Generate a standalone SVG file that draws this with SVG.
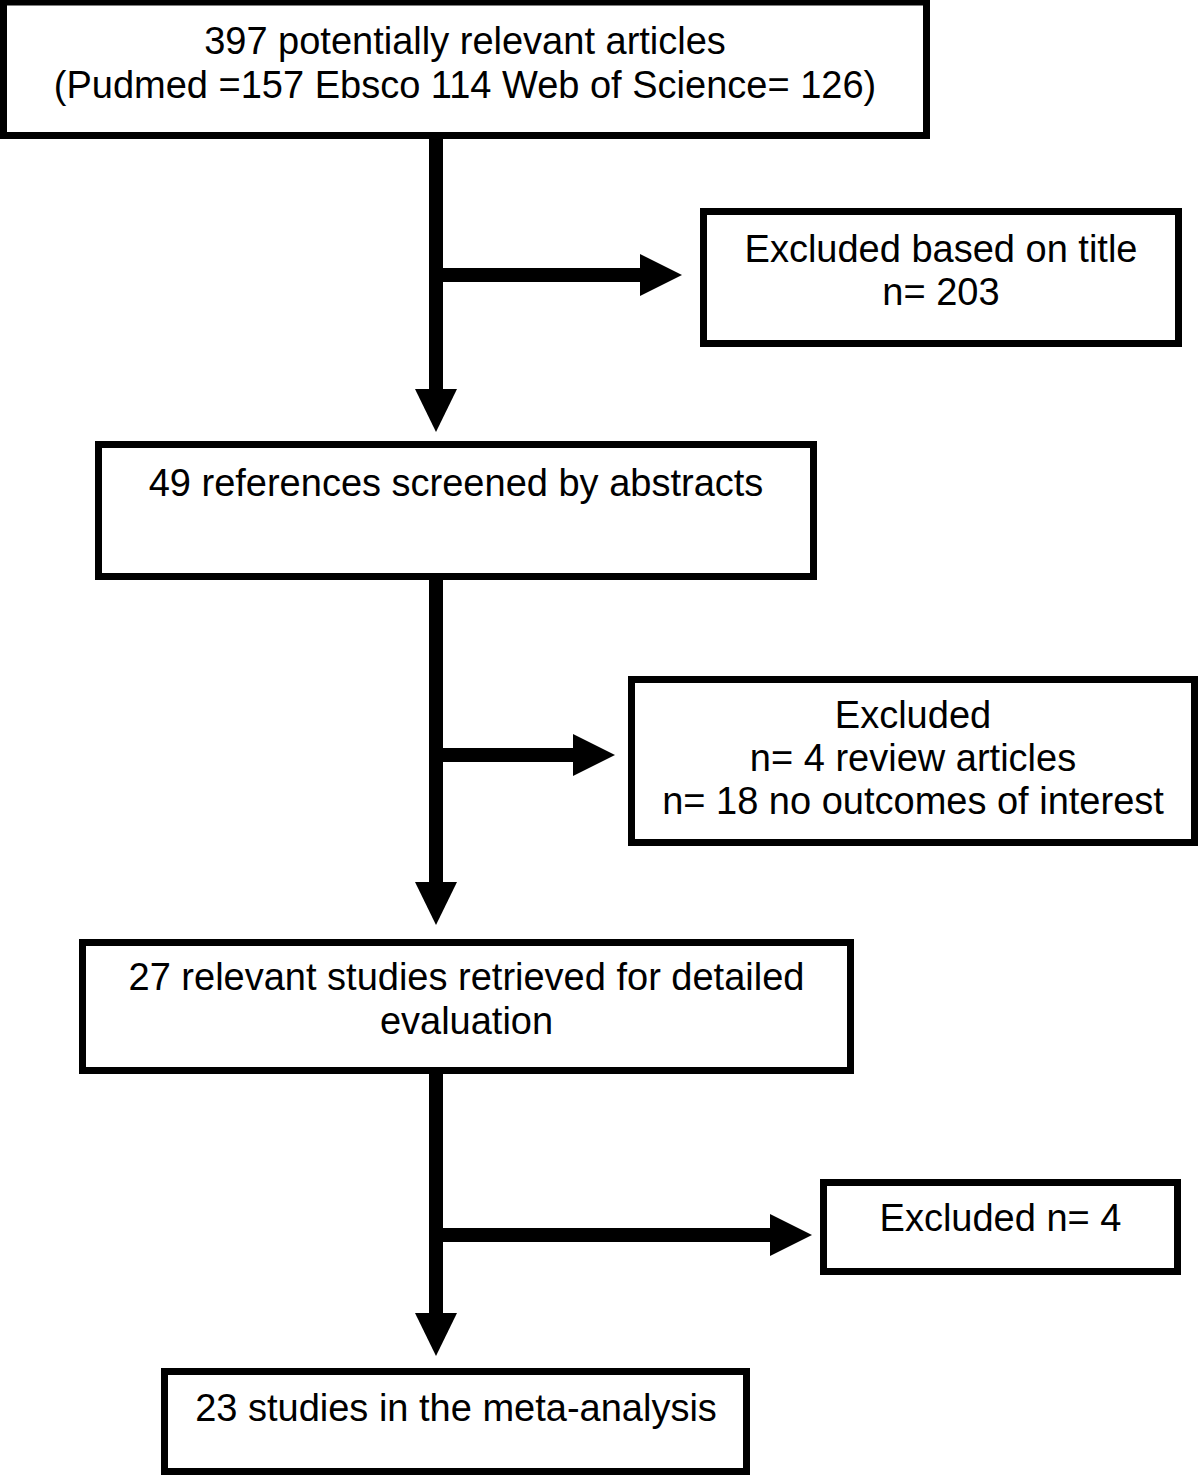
<svg xmlns="http://www.w3.org/2000/svg" width="1200" height="1475" viewBox="0 0 1200 1475">
<style>
.box{fill:#fff;stroke:#000;stroke-width:7}
.t{font-family:"Liberation Sans",Arial,sans-serif;font-size:38px;fill:#000;text-anchor:middle}
.ln{fill:#000}
</style>
<rect width="1200" height="1475" fill="#fff"/>
<g id="connectors">
<rect class="ln" x="429" y="137" width="14" height="253"/>
<polygon class="ln" points="415,389 457,389 436,432"/>
<rect class="ln" x="436" y="268" width="205" height="14"/>
<polygon class="ln" points="640,254 640,296 682,275"/>
<rect class="ln" x="429" y="578" width="14" height="305"/>
<polygon class="ln" points="415,882 457,882 436,925"/>
<rect class="ln" x="436" y="748" width="138" height="14"/>
<polygon class="ln" points="573,734 573,776 615,755"/>
<rect class="ln" x="429" y="1072" width="14" height="242"/>
<polygon class="ln" points="415,1313 457,1313 436,1356"/>
<rect class="ln" x="436" y="1228" width="335" height="14"/>
<polygon class="ln" points="770,1214 770,1256 812,1235"/>
</g>
<g id="n1">
<rect class="box" x="3.5" y="2" width="923" height="133.5"/>
<text class="t" x="465" y="54">397 potentially relevant articles</text>
<text class="t" x="465" y="98">(Pudmed =157 Ebsco 114 Web of Science= 126)</text>
</g>
<g id="n2">
<rect class="box" x="703.5" y="211.5" width="475" height="132"/>
<text class="t" x="941" y="262">Excluded based on title</text>
<text class="t" x="941" y="305">n= 203</text>
</g>
<g id="n3">
<rect class="box" x="98.5" y="444.5" width="715" height="132"/>
<text class="t" x="456" y="496">49 references screened by abstracts</text>
</g>
<g id="n4">
<rect class="box" x="631.5" y="679.5" width="563" height="163"/>
<text class="t" x="913" y="728">Excluded</text>
<text class="t" x="913" y="771">n= 4 review articles</text>
<text class="t" x="913" y="814">n= 18 no outcomes of interest</text>
</g>
<g id="n5">
<rect class="box" x="82.5" y="942.5" width="768" height="128"/>
<text class="t" x="466.5" y="990">27 relevant studies retrieved for detailed</text>
<text class="t" x="466.5" y="1034">evaluation</text>
</g>
<g id="n6">
<rect class="box" x="823.5" y="1182.5" width="354" height="89"/>
<text class="t" x="1000.5" y="1231">Excluded n= 4</text>
</g>
<g id="n7">
<rect class="box" x="164.5" y="1371.5" width="582" height="100"/>
<text class="t" x="456" y="1421">23 studies in the meta-analysis</text>
</g>
</svg>
